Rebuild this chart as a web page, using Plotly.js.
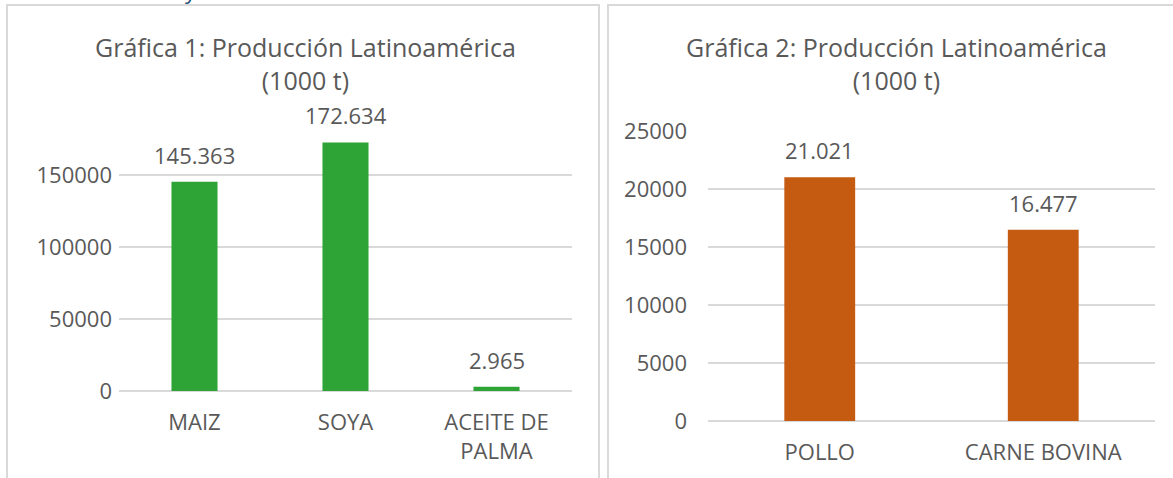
<!DOCTYPE html>
<html>
<head>
<meta charset="utf-8">
<script src="https://cdn.plot.ly/plotly-3.0.1.min.js"></script>
<style>html,body{margin:0;padding:0;background:#fff;}#chart{width:1173px;height:478px;}</style>
</head>
<body>
<div id="chart"></div>
<script>
// Data
const cropCategories = ["MAIZ", "SOYA", "ACEITE DE<br>PALMA"];
const cropValues = [145363, 172634, 2965];
const meatCategories = ["POLLO", "CARNE BOVINA"];
const meatValues = [21021, 16477];
const title1 = "Gráfica 1: Producción Latinoamérica<br>(1000 t)";
const title2 = "Gráfica 2: Producción Latinoamérica<br>(1000 t)";

const W = 1173, H = 478;
const px = x => x / W;
const py = y => 1 - y / H;

const FONT = "Open Sans, sans-serif";
const GRAY = "#595959";
const GRID = "#d9d9d9";

const traces = [
  {type: "bar", x: cropCategories, y: cropValues, xaxis: "x", yaxis: "y",
   marker: {color: "#2ea436"}, width: 0.305, hoverinfo: "none"},
  {type: "bar", x: meatCategories, y: meatValues, xaxis: "x2", yaxis: "y2",
   marker: {color: "#c55a11"}, width: 0.317, hoverinfo: "none"}
];

const fmt = v => v.toLocaleString("de-DE");
const labelFont = {family: FONT, size: 22, color: GRAY};

const annotations = [];
cropCategories.forEach((c, i) => annotations.push({
  xref: "x", yref: "y", x: c, y: cropValues[i], text: fmt(cropValues[i]),
  showarrow: false, yanchor: "bottom", yshift: 10, font: labelFont
}));
meatCategories.forEach((c, i) => annotations.push({
  xref: "x2", yref: "y2", x: c, y: meatValues[i], text: fmt(meatValues[i]),
  showarrow: false, yanchor: "bottom", yshift: 10, font: labelFont
}));
annotations.push({xref: "paper", yref: "paper", x: px(305), y: py(63), text: title1,
  showarrow: false, xanchor: "center", yanchor: "middle", font: {family: FONT, size: 25, color: GRAY}});
annotations.push({xref: "paper", yref: "paper", x: px(896), y: py(63), text: title2,
  showarrow: false, xanchor: "center", yanchor: "middle", font: {family: FONT, size: 25, color: GRAY}});
// fragment of text cut off at the top edge of the picture (as in the reference)
annotations.push({xref: "paper", yref: "paper", x: px(191), y: py(7), text: "y",
  showarrow: false, xanchor: "center", yanchor: "bottom", font: {family: FONT, size: 22, color: "#1f4e79"}});

const axisFont = {family: FONT, size: 22, color: GRAY};

const layout = {
  width: W, height: H,
  margin: {l: 0, r: 0, t: 0, b: 0},
  paper_bgcolor: "#fff", plot_bgcolor: "#fff",
  showlegend: false,
  xaxis: {domain: [px(119), px(572)], anchor: "y", tickfont: axisFont, showgrid: false,
          showline: false, ticks: "", ticklabelstandoff: 16, fixedrange: true},
  yaxis: {domain: [py(391), py(117.4)], anchor: "x", range: [0, 190000], dtick: 50000,
          tickformat: "d", tickfont: axisFont, gridcolor: GRID, gridwidth: 1.5,
          zeroline: true, zerolinecolor: GRID, zerolinewidth: 1.5, showline: false,
          ticks: "", ticklabelstandoff: 6, fixedrange: true},
  xaxis2: {domain: [px(708), px(1155)], anchor: "y2", tickfont: axisFont, showgrid: false,
          showline: false, ticks: "", ticklabelstandoff: 16, fixedrange: true},
  yaxis2: {domain: [py(421), py(131)], anchor: "x2", range: [0, 25000], dtick: 5000,
          tickformat: "d", tickfont: axisFont, gridcolor: GRID, gridwidth: 1.5,
          zeroline: true, zerolinecolor: GRID, zerolinewidth: 1.5, showline: false,
          ticks: "", ticklabelstandoff: 20, fixedrange: true},
  annotations: annotations,
  shapes: [
    {type: "rect", xref: "paper", yref: "paper", x0: px(7), x1: px(599), y0: py(490), y1: py(5),
     line: {color: GRID, width: 2}, layer: "below"},
    {type: "rect", xref: "paper", yref: "paper", x0: px(608), x1: px(1190), y0: py(490), y1: py(5),
     line: {color: GRID, width: 2}, layer: "below"}
  ]
};

Plotly.newPlot("chart", traces, layout, {staticPlot: true, displayModeBar: false});
</script>
</body>
</html>
